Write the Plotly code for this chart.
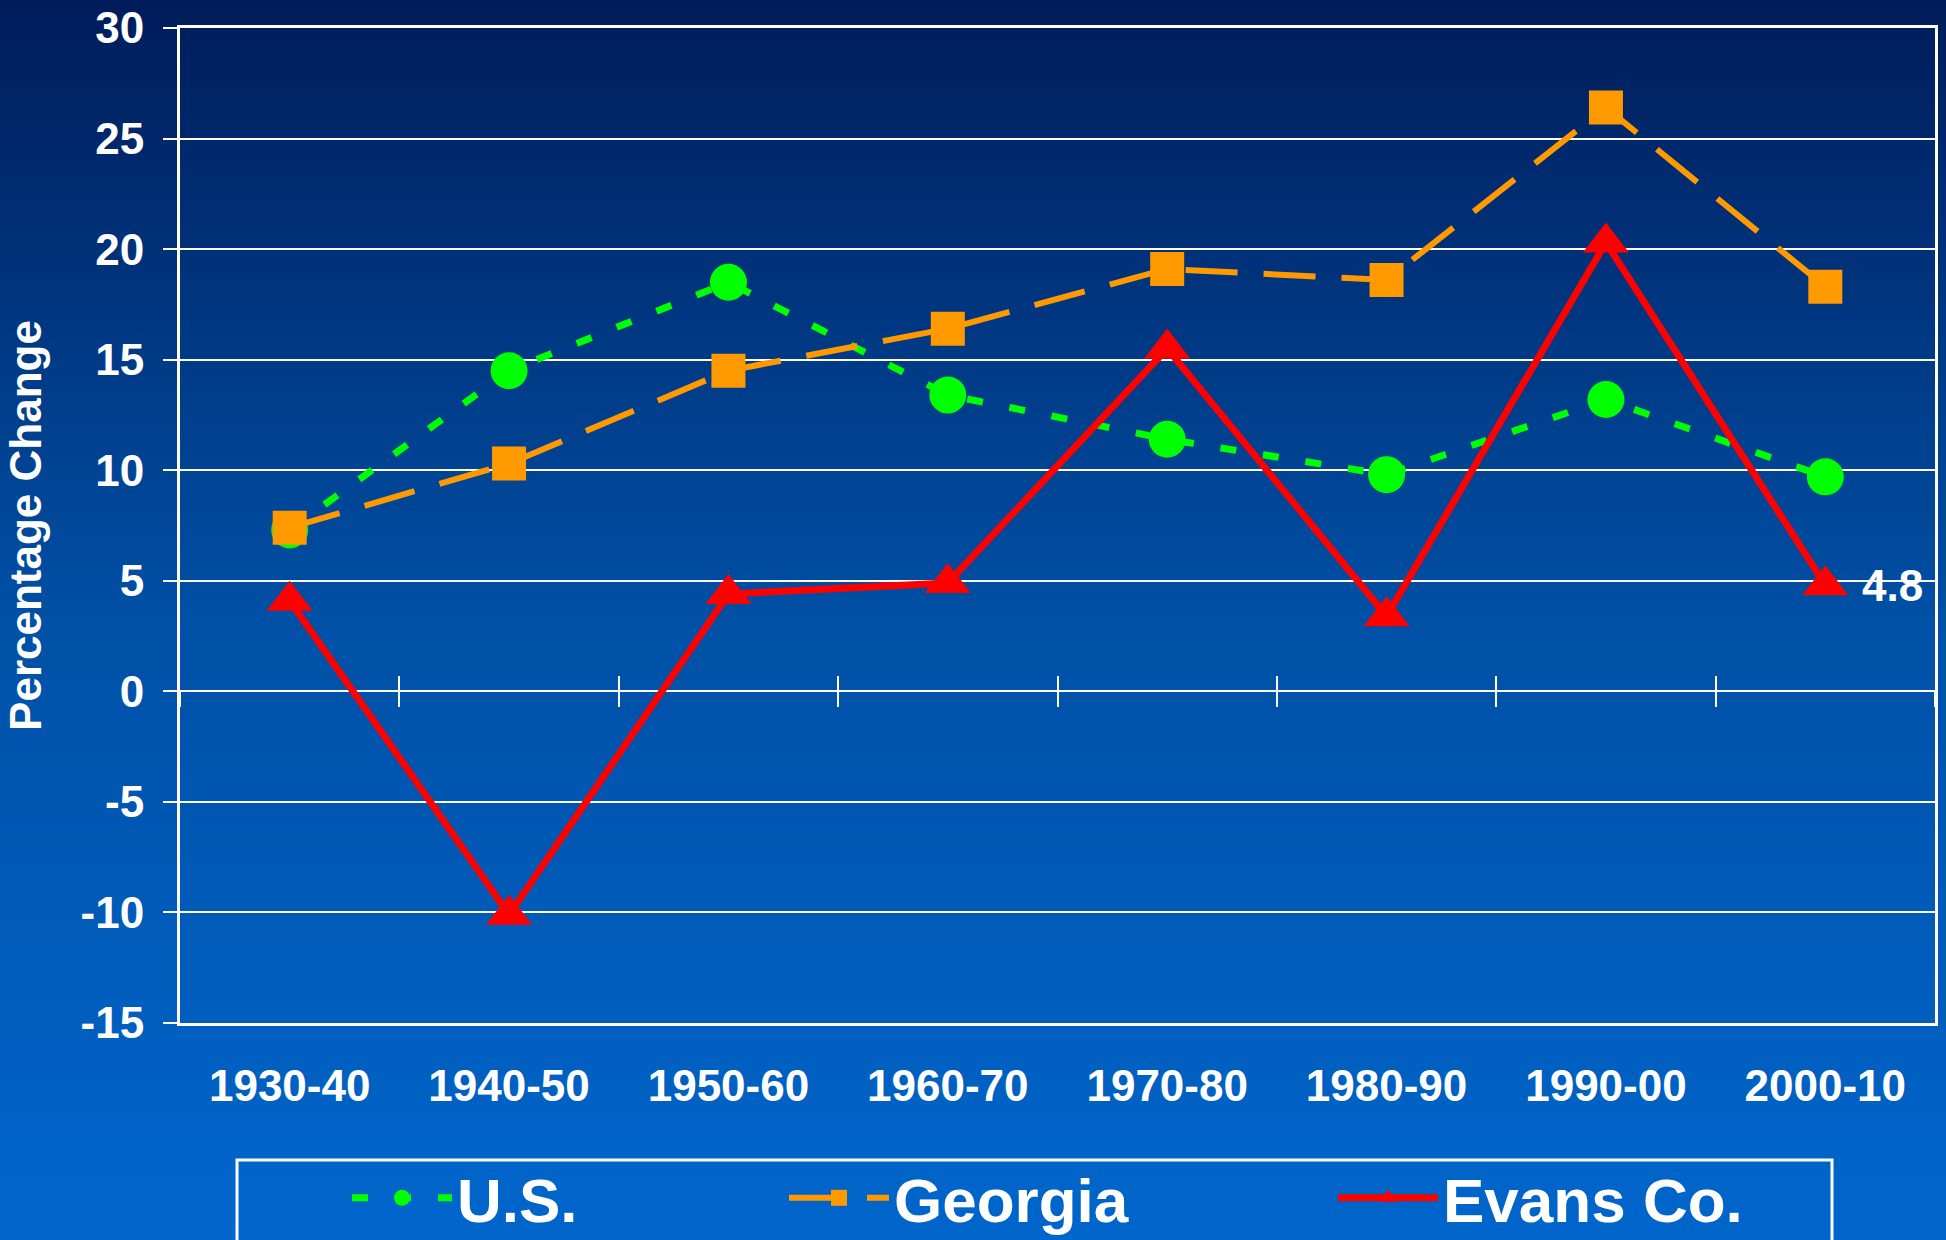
import plotly.graph_objects as go

# Decades and percentage change in population
periods = ["1930-40", "1940-50", "1950-60", "1960-70", "1970-80", "1980-90", "1990-00", "2000-10"]
us_change = [7.3, 14.5, 18.5, 13.4, 11.4, 9.8, 13.2, 9.7]
georgia_change = [7.4, 10.3, 14.5, 16.4, 19.1, 18.6, 26.4, 18.3]
evans_change = [4.1, -10.1, 4.4, 4.9, 15.5, 3.4, 20.3, 4.8]

y_ticks = [-15, -10, -5, 0, 5, 10, 15, 20, 25, 30]
y_tick_labels = ["-15", "-10", "-5", "0", "5", "10", "15", "20", "25", "30"]

W, H = 1946, 1240
L, R, T, B = 180, 11, 28, 217
PW, PH = W - L - R, H - T - B

FONT = "Liberation Sans, Arial, sans-serif"
WHITE = "#ffffff"


def px_x(p):
    return (p - L) / PW


def px_y(p):
    return (H - B - p) / PH


fig = go.Figure()

fig.add_trace(go.Scatter(
    x=periods, y=us_change, name="U.S.", mode="lines+markers",
    line=dict(color="#00ff00", width=7, dash="16px,27px"),
    marker=dict(symbol="circle", size=37, color="#00ff00"),
    legend="legend",
))
fig.add_trace(go.Scatter(
    x=periods, y=georgia_change, name="Georgia", mode="lines+markers",
    line=dict(color="#ff9900", width=6, dash="52px,26px"),
    marker=dict(symbol="square", size=34, color="#ff9900"),
    legend="legend2",
))
fig.add_trace(go.Scatter(
    x=periods, y=evans_change, name="Evans Co.", mode="lines+markers",
    line=dict(color="#ff0000", width=7),
    marker=dict(symbol="triangle-up", size=40, color="#ff0000"),
    legend="legend3",
))

# label for the last Evans value
fig.add_annotation(
    x=periods[-1], y=evans_change[-1], text=str(evans_change[-1]),
    showarrow=False, xshift=67,
    font=dict(family=FONT, size=44, color=WHITE, weight="bold"),
)

# vertical gradient background built from thin bands
stops = [(0, (0, 28, 90)), (620, (0, 80, 166)), (1240, (0, 102, 204))]


def grad(p):
    for (p0, c0), (p1, c1) in zip(stops[:-1], stops[1:]):
        if p0 <= p <= p1:
            t = (p - p0) / (p1 - p0)
            return "rgb(%d,%d,%d)" % tuple(round(a + (b - a) * t) for a, b in zip(c0, c1))
    return "rgb(%d,%d,%d)" % stops[-1][1]


shapes = []
n = 124
for i in range(n):
    y0 = i * H / n
    y1 = (i + 1) * H / n + 1
    shapes.append(dict(
        type="rect", xref="paper", yref="paper", layer="below",
        x0=px_x(-5), x1=px_x(W + 5), y0=px_y(y1), y1=px_y(y0),
        fillcolor=grad((y0 + y1) / 2), line=dict(width=0),
    ))

# legend frame
shapes.append(dict(
    type="rect", xref="paper", yref="paper", layer="above",
    x0=px_x(237), x1=px_x(1832), y0=px_y(1270), y1=px_y(1160),
    line=dict(color=WHITE, width=3), fillcolor="rgba(0,0,0,0)",
))

legend_font = dict(family=FONT, size=62, color=WHITE, weight="bold")


def leg(xpx):
    return dict(
        x=px_x(xpx), xanchor="left", y=px_y(1198), yanchor="middle",
        bgcolor="rgba(0,0,0,0)", borderwidth=0, font=legend_font,
        itemwidth=100,
    )


fig.update_layout(
    width=W, height=H,
    margin=dict(l=L, r=R, t=T, b=B, autoexpand=False),
    paper_bgcolor="rgb(0,102,204)",
    plot_bgcolor="rgba(0,0,0,0)",
    font=dict(family=FONT, color=WHITE),
    shapes=shapes,
    showlegend=True,
    legend=leg(347),
    legend2=leg(784),
    legend3=leg(1333),
    xaxis=dict(
        type="category", categoryorder="array", categoryarray=periods,
        range=[-0.5, 7.5], showgrid=False, zeroline=False,
        showline=True, linecolor=WHITE, linewidth=3, mirror=True,
        ticks="", ticklabelstandoff=22, automargin=False,
        tickfont=dict(family=FONT, size=44, color=WHITE, weight="bold"),
    ),
    # tick marks crossing the zero line between decades
    xaxis2=dict(
        overlaying="x", anchor="free", position=1 / 3, side="bottom",
        range=[-0.5, 7.5], tick0=0.5, dtick=1, showticklabels=False,
        showgrid=False, zeroline=False, showline=False,
        ticks="outside", ticklen=15, tickwidth=2, tickcolor=WHITE,
    ),
    xaxis3=dict(
        overlaying="x", anchor="free", position=1 / 3, side="bottom",
        range=[-0.5, 7.5], tick0=0.5, dtick=1, showticklabels=False,
        showgrid=False, zeroline=False, showline=False,
        ticks="inside", ticklen=15, tickwidth=2, tickcolor=WHITE,
    ),
    yaxis=dict(
        range=[-15, 30], tickmode="array", tickvals=y_ticks, ticktext=y_tick_labels,
        showgrid=True, gridcolor=WHITE, gridwidth=2, zeroline=False,
        showline=True, linecolor=WHITE, linewidth=3, mirror=True,
        ticks="outside", ticklen=14, tickwidth=2, tickcolor=WHITE,
        ticklabelstandoff=10, automargin=True,
        tickfont=dict(family=FONT, size=44, color=WHITE, weight="bold"),
        title=dict(text="Percentage Change", standoff=26,
                   font=dict(family=FONT, size=44, color=WHITE, weight="bold")),
    ),
)

# invisible helper traces so the tick-only axes are drawn
fig.add_trace(go.Scatter(x=[0], y=[None], xaxis="x2", showlegend=False, hoverinfo="skip"))
fig.add_trace(go.Scatter(x=[0], y=[None], xaxis="x3", showlegend=False, hoverinfo="skip"))

fig.write_html("out.html", config={"displayModeBar": False},
               post_script="document.body.style.margin='0';")
